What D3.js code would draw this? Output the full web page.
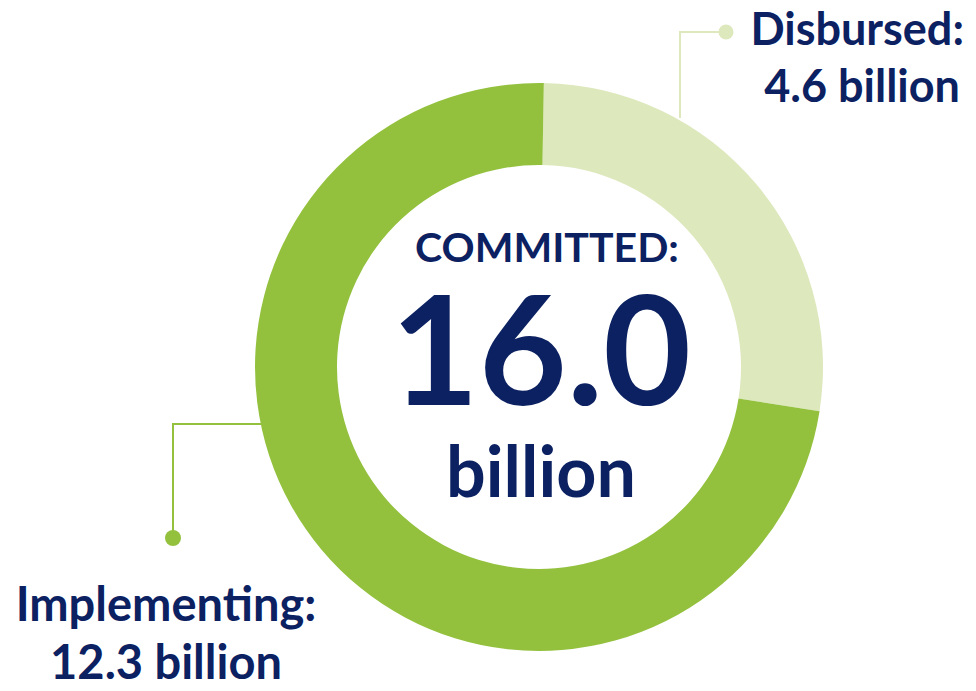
<!DOCTYPE html>
<html><head><meta charset="utf-8">
<script src="https://cdn.jsdelivr.net/npm/d3@7"></script>
<style>body{margin:0;background:#fff}svg{display:block}text{font-family:Lato,"Open Sans",sans-serif;font-weight:700;fill:#0c2161}</style>
</head><body>
<svg id="c" width="976" height="691"></svg>
<script>
const categories = ["Disbursed", "Implementing"];
const values = [4.6, 12.3];
const labelValues = ["4.6 billion", "12.3 billion"];
const totalLabel = "16.0";
const colors = ["#dde8bd", "#93c13e"];

const svg = d3.select("#c");
const cx = 539, cy = 367, rOuter = 284, rInner = 202;
const g = svg.append("g").attr("transform", `translate(${cx},${cy})`);
const pie = d3.pie().sort(null).startAngle(0.017).endAngle(0.017 + 2*Math.PI);
const arc = d3.arc().innerRadius(rInner).outerRadius(rOuter);
g.selectAll("path").data(pie(values)).join("path")
  .attr("d", arc).attr("fill", (d,i)=>colors[i]);

// connectors
svg.append("polyline").attr("points","680,118 680,32 726,32")
  .attr("fill","none").attr("stroke",colors[0]).attr("stroke-width",2);
svg.append("circle").attr("cx",726).attr("cy",32).attr("r",7.5).attr("fill",colors[0]);
svg.append("polyline").attr("points","262,424 173,424 173,538")
  .attr("fill","none").attr("stroke",colors[1]).attr("stroke-width",2);
svg.append("circle").attr("cx",173).attr("cy",538).attr("r",8).attr("fill",colors[1]);

// labels
svg.append("text").attr("x",964).attr("y",45).attr("text-anchor","end").attr("font-size",45).text(categories[0]+":");
svg.append("text").attr("x",960).attr("y",102).attr("text-anchor","end").attr("font-size",45).text(labelValues[0]);
svg.append("text").attr("x",166).attr("y",621).attr("text-anchor","middle").attr("font-size",47).text(categories[1]+":");
svg.append("text").attr("x",166).attr("y",679).attr("text-anchor","middle").attr("font-size",47).text(labelValues[1]);

// center
svg.append("text").attr("x",547).attr("y",262).attr("text-anchor","middle").attr("font-size",41).text("COMMITTED:");
svg.append("text").attr("x",541).attr("y",405).attr("text-anchor","middle").attr("font-size",152).text(totalLabel);
svg.append("text").attr("x",541).attr("y",497).attr("text-anchor","middle").attr("font-size",70).text("billion");
</script>
</body></html>
